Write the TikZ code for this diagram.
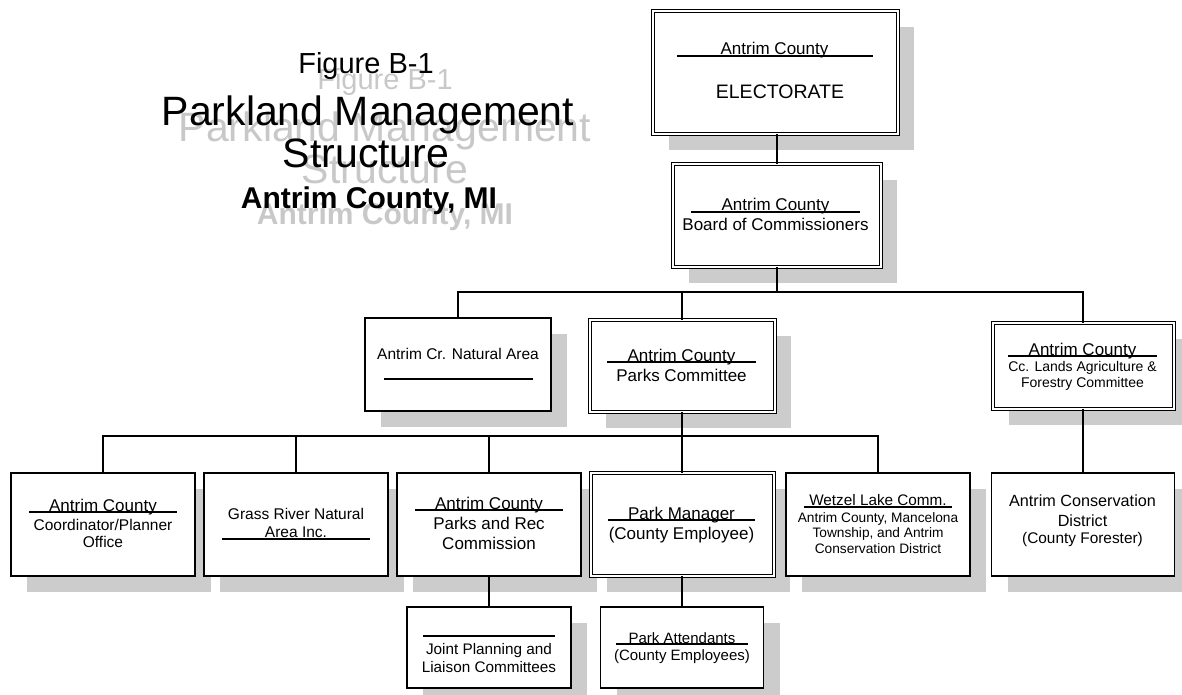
\documentclass[tikz,border=0pt]{standalone}
\usepackage{fontspec}
\setmainfont{Liberation Sans}
\usetikzlibrary{shadows,calc}
\definecolor{shade}{HTML}{CCCCCC}
\definecolor{ghostgray}{HTML}{C8C8C8}
\begin{document}
\begin{tikzpicture}[x=1pt,y=-1pt,
  sbox/.style={draw, line width=1.2pt, fill=white, inner sep=0pt, outer sep=0pt,
    drop shadow={shadow xshift=16pt, shadow yshift=-16pt, fill=shade, opacity=1}},
  dbox/.style={sbox, double, double distance=2pt, line width=1pt},
  conn/.style={line width=1.4pt},
  uline/.style={line width=1.1pt},
  tx/.style={anchor=base, inner sep=0pt, font=\fontsize{#1}{#1}\selectfont},
  title/.style={anchor=base, inner sep=0pt, font=\fontsize{#1}{#1}\selectfont},
  ghost/.style={anchor=base, inner sep=0pt, text=ghostgray, font=\fontsize{#1}{#1}\selectfont}
]
\useasboundingbox (0,0) rectangle (1182,694);

% ---- title (ghost then black) ----
\node[ghost=29] (g1) at (385,89) {Figure B-1};
\node[ghost=41] (g2) at (385,141) {Parkland Management};
\node[ghost=41] (g3) at (385,183) {Structure};
\node[ghost=30] (g4) at (385,224) {\bfseries Antrim County, MI};
\node[title=29] (t1) at (366,73) {Figure B-1};
\node[title=41] (t2) at (368,125) {Parkland Management};
\node[title=41] (t3) at (366,167) {Structure};
\node[title=30] (t4) at (369,208) {\bfseries Antrim County, MI};

% ---- boxes ----
\node[dbox, minimum width=245pt, minimum height=123pt] (E) at (775.5,72.5) {};
\node[dbox, minimum width=208pt, minimum height=103pt] (B) at (777,215.5) {};
\node[sbox, minimum width=186pt, minimum height=93pt] (N) at (458,364.5) {};
\node[dbox, minimum width=185pt, minimum height=92pt] (P) at (682,366) {};
\node[dbox, minimum width=181pt, minimum height=86pt] (L) at (1083,366) {};
\node[sbox, minimum width=184pt, minimum height=103pt] (C1) at (103,524.5) {};
\node[sbox, minimum width=184pt, minimum height=103pt] (C2) at (296,524.5) {};
\node[sbox, minimum width=184pt, minimum height=103pt] (C3) at (489,524.5) {};
\node[dbox, minimum width=183pt, minimum height=103pt] (C4) at (682,524.5) {};
\node[sbox, minimum width=184pt, minimum height=103pt] (C5) at (878,524.5) {};
\node[sbox, minimum width=183pt, minimum height=103pt] (C6) at (1083,524.5) {};
\node[sbox, minimum width=164pt, minimum height=81pt] (J) at (489,647.5) {};
\node[sbox, minimum width=163pt, minimum height=81pt] (A) at (682,647.5) {};

% ---- connectors ----
\coordinate (bus1) at (777,292);
\coordinate (bus2) at (682,436);
\draw[conn] (E.south -| B.north) -- (B.north);
\draw[conn] (B.south) -- (B.south |- bus1);
\draw[conn] (N.north) |- (bus1) -| (L.north);
\draw[conn] (P.north) -- (P.north |- bus1);
\draw[conn] (P.south) -- (P.south |- bus2);
\draw[conn] (C1.north) |- (bus2) -| (C5.north);
\draw[conn] (C2.north) -- (C2.north |- bus2);
\draw[conn] (C3.north) -- (C3.north |- bus2);
\draw[conn] (C4.north) -- (C4.north |- bus2);
\draw[conn] (L.south) -- (C6.north);
\draw[conn] (C3.south) -- (J.north);
\draw[conn] (C4.south) -- (A.north);

% ---- texts and underlines ----
% Electorate
\node[tx=17] (e1) at (774.5,54) {Antrim County};
\draw[uline] (677,56) -- (873,56);
\node[tx=19.5] (e2) at (780,98) {ELECTORATE};
% Board
\node[tx=17] (b1) at (775.5,210) {Antrim County};
\draw[uline] (691,212) -- (860,212);
\node[tx=17] (b2) at (775.5,230) {Board of Commissioners};
% Natural area
\node[tx=15.5] (n1) at (458,359) {Antrim Cr. Natural Area};
\draw[uline] (384,379) -- (533,379);
% Parks committee
\node[tx=17] (p1) at (681.5,361) {Antrim County};
\draw[uline] (607,362) -- (756,362);
\node[tx=17] (p2) at (681.5,381) {Parks Committee};
% Lands
\node[tx=17] (l1) at (1082.5,355) {Antrim County};
\draw[uline] (1008,356) -- (1157,356);
\node[tx=14] (l2) at (1082.5,371) {Cc. Lands Agriculture \&};
\node[tx=14] (l3) at (1082.5,387) {Forestry Committee};
% Coordinator
\node[tx=17] (c11) at (103,511) {Antrim County};
\draw[uline] (29,512) -- (177,512);
\node[tx=15.5] (c12) at (103,530) {Coordinator/Planner};
\node[tx=15.5] (c13) at (103,547) {Office};
% Grass River
\node[tx=15.5] (c21) at (296,519) {Grass River Natural};
\node[tx=15.5] (c22) at (296,537) {Area Inc.};
\draw[uline] (222,539) -- (370,539);
% Parks and Rec
\node[tx=17] (c31) at (489,509) {Antrim County};
\draw[uline] (415,510) -- (563,510);
\node[tx=17] (c32) at (489,529) {Parks and Rec};
\node[tx=17] (c33) at (489,549) {Commission};
% Park manager
\node[tx=17] (c41) at (681.5,519) {Park Manager};
\draw[uline] (608,520) -- (755,520);
\node[tx=17] (c42) at (681.5,539) {(County Employee)};
% Wetzel
\node[tx=15.3] (c51) at (878,505) {Wetzel Lake Comm.};
\draw[uline] (804,507) -- (952,507);
\node[tx=13.7] (c52) at (878,522) {Antrim County, Mancelona};
\node[tx=13.7] (c53) at (878,537) {Township, and Antrim};
\node[tx=13.7] (c54) at (878,553) {Conservation District};
% Conservation district
\node[tx=16.2] (c61) at (1082.5,506) {Antrim Conservation};
\node[tx=16.2] (c62) at (1082.5,526) {District};
\node[tx=15.4] (c63) at (1082.5,543) {(County Forester)};
% Joint planning
\draw[uline] (423,636) -- (555,636);
\node[tx=15.3] (j1) at (489,654) {Joint Planning and};
\node[tx=15.3] (j2) at (489,672) {Liaison Committees};
% Park attendants
\node[tx=15] (a1) at (682,643) {Park Attendants};
\draw[uline] (616,644) -- (748,644);
\node[tx=15] (a2) at (682,660) {(County Employees)};
\end{tikzpicture}
\end{document}
